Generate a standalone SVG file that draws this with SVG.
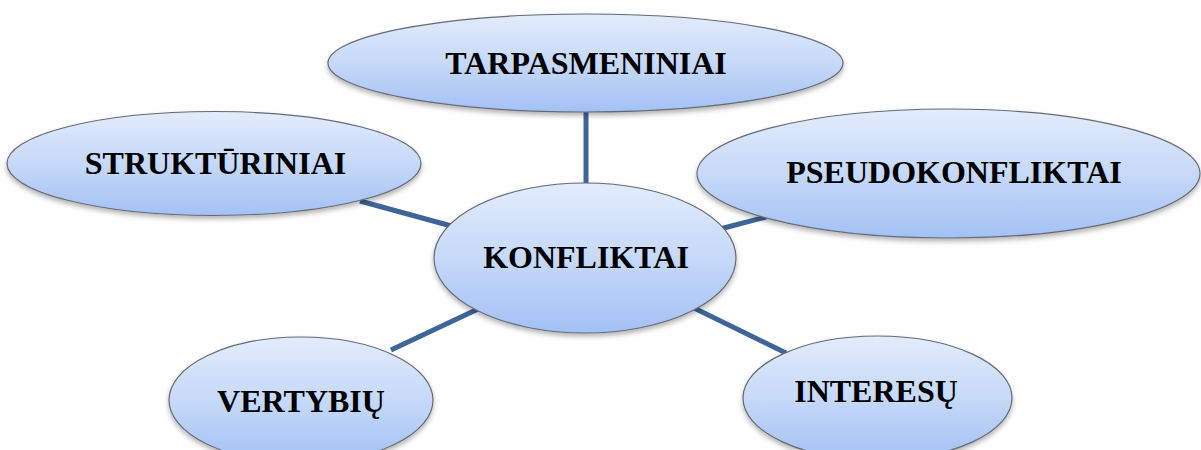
<svg xmlns="http://www.w3.org/2000/svg" width="1201" height="450" viewBox="0 0 1201 450">
<defs>
<linearGradient id="g" x1="0" y1="0" x2="0" y2="1">
<stop offset="0" stop-color="#e2ecfc"/>
<stop offset="0.5" stop-color="#c6d9f8"/>
<stop offset="1" stop-color="#a2c1f4"/>
</linearGradient>
<filter id="sh" x="-10%" y="-10%" width="120%" height="130%">
<feDropShadow dx="0" dy="3" stdDeviation="2.5" flood-color="#000" flood-opacity="0.3"/>
</filter>
</defs>
<style>
.n ellipse{fill:url(#g);stroke:#666b74;stroke-width:1.2;filter:url(#sh)}
.n text{font-family:"Liberation Serif","Times New Roman",serif;font-weight:bold;font-size:32px;fill:#000;text-anchor:middle}
.c line{stroke:#3e6597;stroke-width:5}
</style>
<rect width="1201" height="450" fill="#fff"/>
<g id="connectors" class="c">
<line x1="586" y1="110" x2="586" y2="186"/>
<line x1="360" y1="201" x2="455" y2="227"/>
<line x1="720" y1="229" x2="766" y2="217"/>
<line x1="391" y1="350" x2="478" y2="309"/>
<line x1="694" y1="308" x2="786" y2="353"/>
</g>
<g id="tarpasmeniniai" class="n">
<ellipse cx="585.5" cy="63" rx="257.5" ry="49"/>
<text x="586" y="74">TARPASMENINIAI</text>
</g>
<g id="strukturiniai" class="n">
<ellipse cx="214" cy="163.5" rx="207" ry="52"/>
<text x="215.5" y="174">STRUKTŪRINIAI</text>
</g>
<g id="pseudokonfliktai" class="n">
<ellipse cx="948.5" cy="173.5" rx="251.5" ry="64.5"/>
<text x="954" y="183">PSEUDOKONFLIKTAI</text>
</g>
<g id="konfliktai" class="n">
<ellipse cx="585" cy="258" rx="151" ry="75"/>
<text x="586" y="268">KONFLIKTAI</text>
</g>
<g id="vertybiu" class="n">
<ellipse cx="301" cy="400" rx="132" ry="63"/>
<text x="301" y="412">VERTYBIŲ</text>
</g>
<g id="interesu" class="n">
<ellipse cx="877.5" cy="398" rx="134.5" ry="62"/>
<text x="876" y="402">INTERESŲ</text>
</g>
</svg>
